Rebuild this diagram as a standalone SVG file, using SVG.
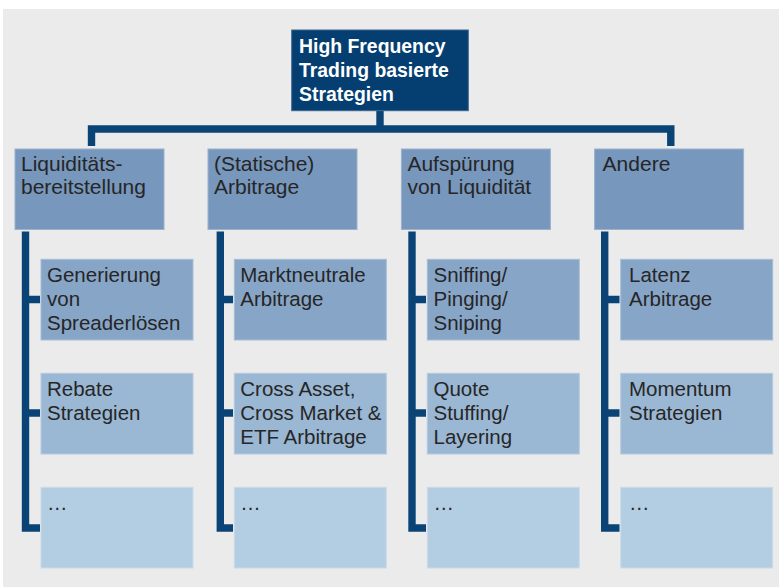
<svg xmlns="http://www.w3.org/2000/svg" width="779" height="587" viewBox="0 0 779 587">
  <style>
    .bg { fill: #ebebeb; }
    .root { fill: #053f71; stroke: #3a6690; stroke-width: 1; }
    .cat { fill: #7797bd; stroke: #9ab2cf; stroke-width: 1; }
    .r1 { fill: #87a5c7; stroke: #a6bdd7; stroke-width: 1; }
    .r2 { fill: #9ab7d4; stroke: #b5cae0; stroke-width: 1; }
    .r3 { fill: #b3cde3; stroke: #c9dbea; stroke-width: 1; }
    .wire { fill: none; stroke: #0a4476; stroke-width: 7.4; stroke-linecap: butt; stroke-linejoin: miter; }
    text { font-family: "Liberation Sans", Arial, sans-serif; font-size: 20.5px; fill: #262626; }
    .catlabel { font-size: 21px; }
    .title { font-weight: bold; font-size: 19.4px; fill: #ffffff; }
  </style>

  <rect class="bg" x="3" y="9" width="776" height="578"/>

  <!-- connectors -->
  <g id="connectors">
    <path class="wire" d="M380,110.7 V129"/>
    <path class="wire" d="M91.5,146 V129 H670.8 V146"/>
    <!-- column 1 -->
    <path class="wire" d="M25.5,231.5 V528 H40"/>
    <path class="wire" d="M25.5,299.5 H40 M25.5,413 H40"/>
    <!-- column 2 -->
    <path class="wire" d="M220.3,231.5 V528 H233"/>
    <path class="wire" d="M220.3,299.5 H233 M220.3,413 H233"/>
    <!-- column 3 -->
    <path class="wire" d="M412,231.5 V528 H426"/>
    <path class="wire" d="M412,299.5 H426 M412,413 H426"/>
    <!-- column 4 -->
    <path class="wire" d="M604.7,231.5 V528 H619.5"/>
    <path class="wire" d="M604.7,299.5 H619.5 M604.7,413 H619.5"/>
  </g>

  <!-- root -->
  <g id="root">
    <rect class="root" x="291.7" y="30" width="176.6" height="80.7"/>
    <text class="title" x="299" y="52.5">High Frequency</text>
    <text class="title" x="299" y="76.5">Trading basierte</text>
    <text class="title" x="299" y="100.5">Strategien</text>
  </g>

  <!-- categories -->
  <g id="cat-liquiditaet">
    <rect class="cat" x="15" y="149" width="149" height="80.5"/>
    <text class="catlabel" x="21" y="170.5">Liquiditäts-</text>
    <text class="catlabel" x="21" y="194">bereitstellung</text>
  </g>
  <g id="cat-arbitrage">
    <rect class="cat" x="208" y="149" width="149" height="80.5"/>
    <text class="catlabel" x="214" y="170.5">(Statische)</text>
    <text class="catlabel" x="214" y="194">Arbitrage</text>
  </g>
  <g id="cat-aufspuerung">
    <rect class="cat" x="401.4" y="149" width="149" height="80.5"/>
    <text class="catlabel" x="407.4" y="170.5">Aufspürung</text>
    <text class="catlabel" x="407.4" y="194">von Liquidität</text>
  </g>
  <g id="cat-andere">
    <rect class="cat" x="594.6" y="149" width="149" height="80.5"/>
    <text class="catlabel" x="602.6" y="170.5">Andere</text>
  </g>

  <!-- column 1 children -->
  <g id="c1-spread">
    <rect class="r1" x="41" y="259.3" width="152" height="80.7"/>
    <text x="47" y="281.5">Generierung</text>
    <text x="47" y="305.5">von</text>
    <text x="47" y="329.5">Spreaderlösen</text>
  </g>
  <g id="c1-rebate">
    <rect class="r2" x="41" y="373.3" width="152" height="80.7"/>
    <text x="47" y="395.5">Rebate</text>
    <text x="47" y="419.5">Strategien</text>
  </g>
  <g id="c1-more">
    <rect class="r3" x="41" y="487.3" width="152" height="80.7"/>
    <text x="47" y="510">…</text>
  </g>

  <!-- column 2 children -->
  <g id="c2-marktneutral">
    <rect class="r1" x="234.3" y="259.3" width="152" height="80.7"/>
    <text x="240.3" y="281.5">Marktneutrale</text>
    <text x="240.3" y="305.5">Arbitrage</text>
  </g>
  <g id="c2-cross">
    <rect class="r2" x="234.3" y="373.3" width="152" height="80.7"/>
    <text x="240.3" y="395.5">Cross Asset,</text>
    <text x="240.3" y="419.5">Cross Market &amp;</text>
    <text x="240.3" y="443.5">ETF Arbitrage</text>
  </g>
  <g id="c2-more">
    <rect class="r3" x="234.3" y="487.3" width="152" height="80.7"/>
    <text x="240.3" y="510">…</text>
  </g>

  <!-- column 3 children -->
  <g id="c3-sniffing">
    <rect class="r1" x="427.3" y="259.3" width="152" height="80.7"/>
    <text x="433.5" y="281.5">Sniffing/</text>
    <text x="433.5" y="305.5">Pinging/</text>
    <text x="433.5" y="329.5">Sniping</text>
  </g>
  <g id="c3-quote">
    <rect class="r2" x="427.3" y="373.3" width="152" height="80.7"/>
    <text x="433.5" y="395.5">Quote</text>
    <text x="433.5" y="419.5">Stuffing/</text>
    <text x="433.5" y="443.5">Layering</text>
  </g>
  <g id="c3-more">
    <rect class="r3" x="427.3" y="487.3" width="152" height="80.7"/>
    <text x="433.5" y="510">…</text>
  </g>

  <!-- column 4 children -->
  <g id="c4-latenz">
    <rect class="r1" x="620.7" y="259.3" width="152" height="80.7"/>
    <text x="629" y="281.5">Latenz</text>
    <text x="629" y="305.5">Arbitrage</text>
  </g>
  <g id="c4-momentum">
    <rect class="r2" x="620.7" y="373.3" width="152" height="80.7"/>
    <text x="629" y="395.5">Momentum</text>
    <text x="629" y="419.5">Strategien</text>
  </g>
  <g id="c4-more">
    <rect class="r3" x="620.7" y="487.3" width="152" height="80.7"/>
    <text x="629" y="510">…</text>
  </g>
</svg>
